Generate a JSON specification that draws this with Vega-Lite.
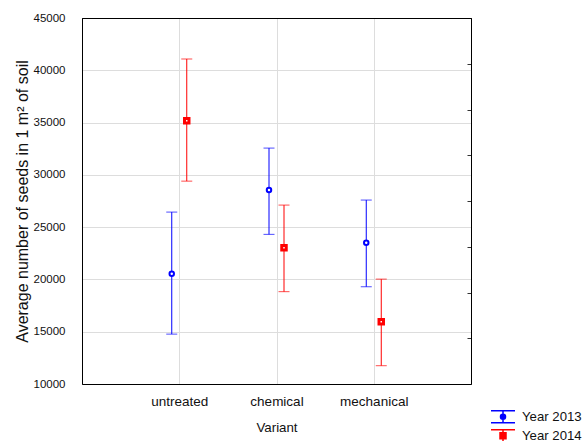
{
  "$schema": "https://vega.github.io/schema/vega-lite/v6.json",
  "autosize": {"type": "none"},
  "padding": {"left": 82, "top": 18, "right": 112, "bottom": 57},
  "width": 389,
  "height": 366,
  "background": "white",
  "view": {"stroke": "black", "strokeWidth": 1},
  "config": {
    "font": "Liberation Sans",
    "view": {"stroke": "black", "strokeWidth": 1},
    "axis": {"labelColor": "#111", "titleColor": "#111", "titleFontWeight": "normal", "gridColor": "#dddddd", "gridWidth": 1, "domain": true, "domainColor": "black", "domainWidth": 1}
  },
  "data": {
    "values": [
      {"Variant": "untreated", "Year": "2013", "mean": 20550, "lo": 14770, "hi": 26440},
      {"Variant": "untreated", "Year": "2014", "mean": 35180, "lo": 29400, "hi": 41080},
      {"Variant": "chemical", "Year": "2013", "mean": 28545, "lo": 24310, "hi": 32560},
      {"Variant": "chemical", "Year": "2014", "mean": 23035, "lo": 18830, "hi": 27110},
      {"Variant": "mechanical", "Year": "2013", "mean": 23510, "lo": 19300, "hi": 27590},
      {"Variant": "mechanical", "Year": "2014", "mean": 15960, "lo": 11750, "hi": 20030}
    ]
  },
  "encoding": {
    "x": {
      "field": "Variant", "type": "nominal",
      "sort": ["untreated", "chemical", "mechanical"],
      "scale": {"type": "point", "padding": 1},
      "axis": {"title": "Variant", "labelAngle": 0, "labelFontSize": 13.5, "titleFontSize": 13.3, "ticks": false, "labelPadding": 10, "titleY": 47.7, "titleBaseline": "alphabetic", "grid": true}
    },
    "xOffset": {"field": "Year", "type": "nominal", "scale": {"type": "point", "range": [-7.5, 7.5], "padding": 0}},
    "color": {
      "field": "Year", "type": "nominal",
      "scale": {"domain": ["2013", "2014"], "range": ["#0000ff", "#ff0000"]},
      "legend": {
        "title": null,
        "orient": "none",
        "legendX": 414,
        "legendY": 391.7,
        "padding": 0,
        "labelFontSize": 13.2,
        "labelColor": "#111",
        "labelExpr": "'Year ' + datum.label",
        "symbolSize": 144,
        "symbolStrokeWidth": 1.5,
        "labelOffset": 12,
        "rowPadding": 1,
        "encode": {
          "symbols": {
            "update": {
              "shape": {"signal": "datum.value == '2013' ? 'M-2,-1H2M-2,1H2M0,-1V-0.42M0,0.42V1M0.42,0A0.42,0.42 0 1,1 -0.42,0A0.42,0.42 0 1,1 0.42,0Z' : 'M-2,-1H2M-2,1H2M0,-1V-0.5M0,0.5V1M-0.5,-0.5H0.5V0.5H-0.5Z'"},
              "fill": {"signal": "datum.value == '2013' ? 'white' : '#ff0000'"},
              "stroke": {"signal": "datum.value == '2013' ? '#0000ff' : '#ff0000'"},
              "strokeWidth": {"value": 1.5},
              "opacity": {"value": 1},
              "fillOpacity": {"value": 1}
            }
          }
        }
      }
    }
  },
  "layer": [
    {
      "mark": {"type": "rule", "strokeWidth": 1},
      "encoding": {
        "y": {"field": "lo", "type": "quantitative", "scale": {"domain": [10000, 45000], "nice": false, "zero": false}, "axis": null},
        "y2": {"field": "hi"}
      }
    },
    {
      "mark": {"type": "tick", "size": 11, "thickness": 1, "orient": "horizontal"},
      "encoding": {
        "y": {"field": "lo", "type": "quantitative", "scale": {"domain": [10000, 45000], "nice": false, "zero": false}, "axis": null}
      }
    },
    {
      "mark": {"type": "tick", "size": 11, "thickness": 1, "orient": "horizontal"},
      "encoding": {
        "y": {"field": "hi", "type": "quantitative", "scale": {"domain": [10000, 45000], "nice": false, "zero": false},
          "axis": {"orient": "right", "title": null, "labels": false, "grid": false, "ticks": true, "tickSize": -4, "tickColor": "#333",
            "values": [14375, 18750, 23125, 27500, 31875, 36250, 40625]}}
      }
    },
    {
      "mark": {"type": "point", "filled": false, "fill": "white", "fillOpacity": 1, "size": 20, "opacity": 1},
      "encoding": {
        "y": {"field": "mean", "type": "quantitative", "scale": {"domain": [10000, 45000], "nice": false, "zero": false},
          "axis": {"orient": "left", "title": "Average number of seeds in 1 m² of soil", "titleFontSize": 16, "labelFontSize": 11.5, "format": "d",
            "values": [10000, 15000, 20000, 25000, 30000, 35000, 40000, 45000], "ticks": false, "labelPadding": 17, "grid": true,
            "gridColor": {"condition": {"test": "datum.value >= 45000", "value": "black"}, "value": "#dddddd"},
            "titleX": -54.3, "titleY": 183, "titleBaseline": "alphabetic", "titleAngle": -90}},
        "shape": {"condition": {"test": "datum.Year == '2014'", "value": "square"}, "value": "circle"},
        "strokeWidth": {"condition": {"test": "datum.Year == '2014'", "value": 3}, "value": 2}
      }
    }
  ],
  "resolve": {"scale": {"y": "independent"}, "axis": {"y": "independent"}}
}
